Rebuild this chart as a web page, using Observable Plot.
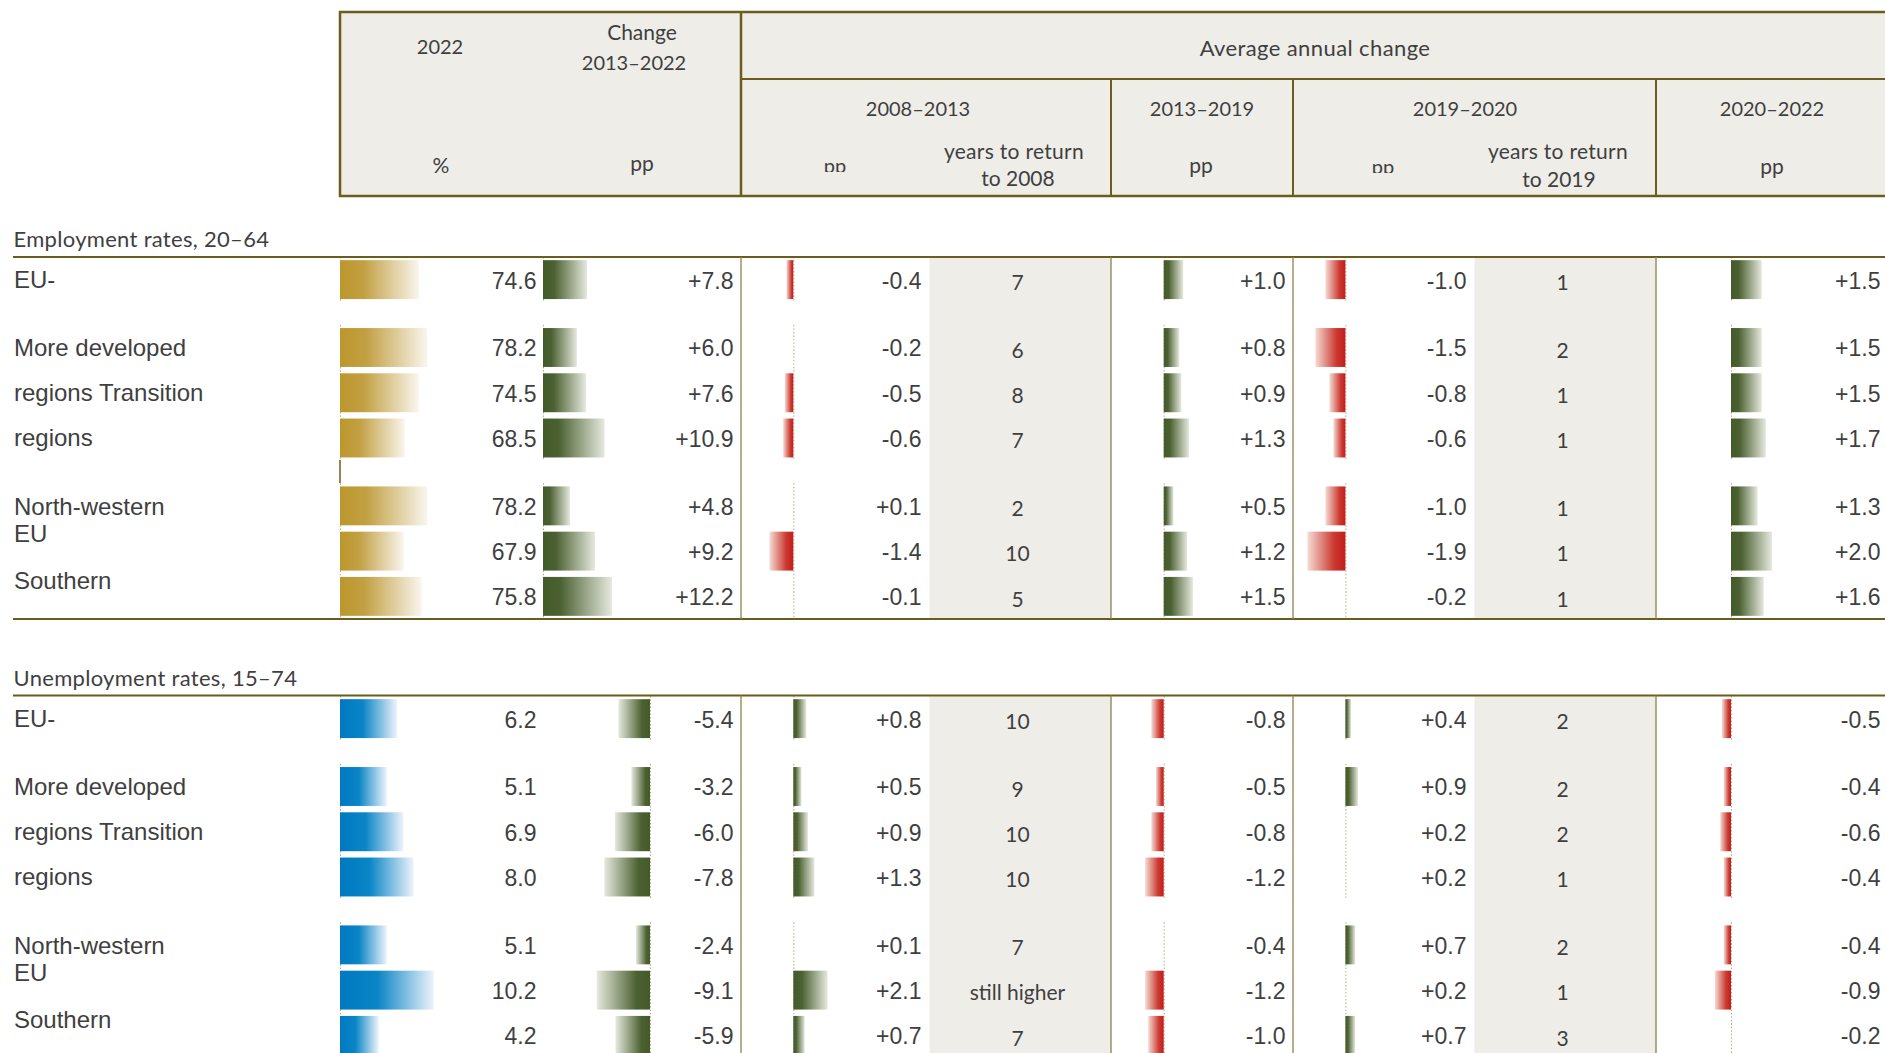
<!DOCTYPE html>
<html><head><meta charset="utf-8">
<script src="https://cdn.jsdelivr.net/npm/d3@7"></script>
<script src="https://cdn.jsdelivr.net/npm/@observablehq/plot@0.6"></script>
<style>
html,body{margin:0;padding:0;background:#fff;overflow:hidden}
#page{position:relative;width:1885px;height:1053px;overflow:hidden;background:#fff}
.cell{position:absolute}
.cell svg{display:block;max-width:none !important}
#static{position:absolute;left:0;top:0;pointer-events:none;z-index:5}
</style></head><body>
<svg width="0" height="0" style="position:absolute">
  <defs>
    <linearGradient id="gGold" x1="0" x2="1" y1="0" y2="0">
      <stop offset="0" stop-color="#bb972c"/><stop offset="0.3" stop-color="#c2a043"/><stop offset="1" stop-color="#faf6ee"/>
    </linearGradient>
    <linearGradient id="gBlue" x1="0" x2="1" y1="0" y2="0">
      <stop offset="0" stop-color="#0079c1"/><stop offset="0.4" stop-color="#0a85c6"/><stop offset="1" stop-color="#eef3fb"/>
    </linearGradient>
    <linearGradient id="gGreenPos" x1="0" x2="1" y1="0" y2="0">
      <stop offset="0" stop-color="#435a29"/><stop offset="0.25" stop-color="#4b6131"/><stop offset="1" stop-color="#e6e9de"/>
    </linearGradient>
    <linearGradient id="gGreenNeg" x1="1" x2="0" y1="0" y2="0">
      <stop offset="0" stop-color="#435a29"/><stop offset="0.25" stop-color="#4b6131"/><stop offset="1" stop-color="#e6e9de"/>
    </linearGradient>
    <linearGradient id="gRedNeg" x1="1" x2="0" y1="0" y2="0">
      <stop offset="0" stop-color="#c41b1b"/><stop offset="0.3" stop-color="#cb3a30"/><stop offset="1" stop-color="#f5dcd5"/>
    </linearGradient>
  </defs>
</svg>
<div id="page"></div>
<script>
// ---------------- data ----------------
const rowLabels = ["EU-", "More developed", "regions Transition", "regions", "North-western", "EU", "Southern"];
const rowGroups = [0, 1, 1, 1, 2, 2, 2];
const sectionTitles = ["Employment rates, 20\u201364", "Unemployment rates, 15\u201374"];

// Employment rates, 20-64
const empRate2022   = [74.6, 78.2, 74.5, 68.5, 78.2, 67.9, 75.8];
const empChange1322 = [7.8, 6.0, 7.6, 10.9, 4.8, 9.2, 12.2];
const empAvg0813    = [-0.4, -0.2, -0.5, -0.6, 0.1, -1.4, -0.1];
const empYears2008  = ["7", "6", "8", "7", "2", "10", "5"];
const empAvg1319    = [1.0, 0.8, 0.9, 1.3, 0.5, 1.2, 1.5];
const empAvg1920    = [-1.0, -1.5, -0.8, -0.6, -1.0, -1.9, -0.2];
const empYears2019  = ["1", "2", "1", "1", "1", "1", "1"];
const empAvg2022    = [1.5, 1.5, 1.5, 1.7, 1.3, 2.0, 1.6];

// Unemployment rates, 15-74
const unRate2022    = [6.2, 5.1, 6.9, 8.0, 5.1, 10.2, 4.2];
const unChange1322  = [-5.4, -3.2, -6.0, -7.8, -2.4, -9.1, -5.9];
const unAvg0813     = [0.8, 0.5, 0.9, 1.3, 0.1, 2.1, 0.7];
const unYears2008   = ["10", "9", "10", "10", "7", "still higher", "7"];
const unAvg1319     = [-0.8, -0.5, -0.8, -1.2, -0.4, -1.2, -1.0];
const unAvg1920     = [0.4, 0.9, 0.2, 0.2, 0.7, 0.2, 0.7];
const unYears2019   = ["2", "2", "2", "1", "2", "1", "3"];
const unAvg2022     = [-0.5, -0.4, -0.6, -0.4, -0.4, -0.9, -0.2];

// header texts
const headTop = ["2022", "Change", "2013\u20132022", "Average annual change"];
const periods = ["2008\u20132013", "2013\u20132019", "2019\u20132020", "2020\u20132022"];
const units = ["%", "pp"];
const yearsHead = ["years to return", "to 2008", "to 2019"];

// ---------------- layout ----------------
const page = document.getElementById("page");
const ROW = 45.25, SEC_H = 8 * ROW;
const OL = "#6b5d1b";
const TXT = "#3f3f3f";
const slotOf = i => i + 0.5 + 0.5 * rowGroups[i];
const labelSlots = [0.5, 2, 3, 4, 5.52, 6.12, 7.15];

const cols = [
  {key: "A", left: 340, width: 200, pad: 4},
  {key: "B", left: 540, width: 201, pad: 8},
  {key: "C", left: 741, width: 188, pad: 8},
  {key: "C2", left: 929, width: 182, years: true},
  {key: "D", left: 1111, width: 182, pad: 8},
  {key: "E", left: 1293, width: 181, pad: 8},
  {key: "E2", left: 1474, width: 182, years: true},
  {key: "F", left: 1656, width: 232, pad: 8}
];

// base: bar origin, zero: pixel offset of origin in the cell, k: px per unit, minBar: smallest magnitude that still gets a bar
const sections = [
  {title: sectionTitles[0], top: 257, bottom: 619, levelFill: "url(#gGold)",
   values: {A: empRate2022, B: empChange1322, C: empAvg0813, C2: empYears2008, D: empAvg1319, E: empAvg1920, E2: empYears2019, F: empAvg2022},
   scale: {A: {base: 40.25, zero: 0, k: 2.3, minBar: 0}, B: {base: 0, zero: 3, k: 5.65, minBar: 0},
           C: {base: 0, zero: 52.3, k: 17, minBar: 0.25}, D: {base: 0, zero: 52.7, k: 19.5, minBar: 0},
           E: {base: 0, zero: 52.4, k: 20, minBar: 0.25}, F: {base: 0, zero: 75, k: 20.5, minBar: 0}}},
  {title: sectionTitles[1], top: 695.5, bottom: null, levelFill: "url(#gBlue)",
   values: {A: unRate2022, B: unChange1322, C: unAvg0813, C2: unYears2008, D: unAvg1319, E: unAvg1920, E2: unYears2019, F: unAvg2022},
   scale: {A: {base: 0, zero: 0, k: 9.2, minBar: 0}, B: {base: 0, zero: 110, k: 5.85, minBar: 0},
           C: {base: 0, zero: 52.3, k: 16.3, minBar: 0.15}, D: {base: 0, zero: 52.7, k: 15.5, minBar: 0.45},
           E: {base: 0, zero: 52.4, k: 14, minBar: 0.25}, F: {base: 0, zero: 75, k: 18, minBar: 0.25}}}
];

const fmtSigned = v => (v > 0 ? "+" : "") + v.toFixed(1);
const fmtPlain = v => v.toFixed(1);

function place(node, left, top) {
  const d = document.createElement("div");
  d.className = "cell";
  d.style.left = left + "px";
  d.style.top = top + "px";
  d.appendChild(node);
  page.appendChild(d);
}

function basePlot(width, xopt, marks) {
  return Plot.plot({
    width, height: SEC_H,
    marginTop: 0, marginRight: 0, marginBottom: 0, marginLeft: 0,
    x: Object.assign({axis: null}, xopt),
    y: {type: "linear", domain: [0, 8], range: [0, SEC_H], axis: null},
    style: {background: "transparent", overflow: "visible"},
    marks
  });
}

for (const sec of sections) {
  // row labels
  const labelData = rowLabels.map((label, i) => ({label, slot: labelSlots[i]}));
  place(basePlot(339, {domain: [0, 1]}, [
    Plot.text(labelData, {y: "slot", text: "label", frameAnchor: "left", textAnchor: "start", dx: 13.5,
      fontSize: 24, fontFamily: "Liberation Sans, Arial, sans-serif", fill: TXT})
  ]), 0, sec.top);

  for (const col of cols) {
    const vals = sec.values[col.key];
    const data = vals.map((v, i) => ({v, slot: slotOf(i)}));
    if (col.years) {
      place(basePlot(col.width, {domain: [0, 1]}, [
        Plot.frame({fill: "#eeede8", stroke: "none"}),
        Plot.text(data, {y: "slot", text: "v", frameAnchor: "middle", dy: 3, dx: -3,
          fontSize: 21, fontFamily: "Lato, sans-serif", fill: TXT})
      ]), col.left, sec.top);
      continue;
    }
    const sc = sec.scale[col.key];
    const visible = data.filter(d => Math.abs(d.v - sc.base) > sc.minBar);
    const pos = visible.filter(d => d.v >= sc.base), neg = visible.filter(d => d.v < sc.base);
    let posFill, negFill;
    if (col.key === "A") { posFill = negFill = sec.levelFill; }
    else if (col.key === "B") { posFill = "url(#gGreenPos)"; negFill = "url(#gGreenNeg)"; }
    else { posFill = "url(#gGreenPos)"; negFill = "url(#gRedNeg)"; }
    const bar = (arr, fill) => Plot.rect(arr, {x1: sc.base, x2: "v", y1: d => d.slot - 0.43, y2: d => d.slot + 0.43, fill});
    place(basePlot(col.width, {type: "linear", domain: [sc.base, sc.base + 1], range: [sc.zero, sc.zero + sc.k]}, [
      Plot.ruleX(data, {x: sc.base, y1: d => d.slot - 0.5, y2: d => d.slot + 0.5, stroke: "#b3ab8a", strokeWidth: 1, strokeDasharray: "1.5,2"}),
      bar(pos, posFill),
      bar(neg, negFill),
      Plot.text(data, {y: "slot", text: d => col.key === "A" ? fmtPlain(d.v) : fmtSigned(d.v),
        frameAnchor: "right", textAnchor: "end", dx: -col.pad, dy: 1,
        fontSize: 23, fontFamily: "Liberation Sans, Arial, sans-serif", fill: TXT})
    ]), col.left, sec.top);
  }
}

// ---------------- static header, titles and rules ----------------
const ns = "http://www.w3.org/2000/svg";
const st = document.createElementNS(ns, "svg");
st.setAttribute("id", "static");
st.setAttribute("width", 1885);
st.setAttribute("height", 1053);
const T = (s, x, y, size, extra = "") =>
  `<text x="${x}" y="${y}" text-anchor="middle" font-family="Lato, sans-serif" font-size="${size}" fill="${TXT}" ${extra}>${s}</text>`;
const L = (x1, y1, x2, y2, w, c = OL, extra = "") =>
  `<line x1="${x1}" y1="${y1}" x2="${x2}" y2="${y2}" stroke="${c}" stroke-width="${w}" ${extra}/>`;
let h = "";
h += `<defs><clipPath id="clipC"><rect x="800" y="140" width="80" height="32"/></clipPath>
<clipPath id="clipE"><rect x="1345" y="140" width="80" height="33"/></clipPath></defs>`;
// header box
h += `<rect x="340" y="12" width="1600" height="184" fill="#eeede8" stroke="${OL}" stroke-width="2.5"/>`;
h += L(741, 12, 741, 196, 2.5);
h += L(741, 79, 1900, 79, 2);
h += L(1111, 79, 1111, 196, 2);
h += L(1293, 79, 1293, 196, 2);
h += L(1656, 79, 1656, 196, 2);
// header texts
h += T(headTop[0], 440, 54, 20);
h += T(headTop[1], 642, 40, 21);
h += T(headTop[2], 634, 70, 20);
h += T(headTop[3], 1315, 56, 22, 'letter-spacing="0.4"');
h += T(periods[0], 918, 116, 20);
h += T(periods[1], 1202, 116, 20);
h += T(periods[2], 1465, 116, 20);
h += T(periods[3], 1772, 116, 20);
h += T(units[0], 441, 173, 21);
h += T(units[1], 642, 171, 21);
h += T(units[1], 835, 173, 20, 'clip-path="url(#clipC)"');
h += T(units[1], 1201, 173, 21);
h += T(units[1], 1383, 174, 20, 'clip-path="url(#clipE)"');
h += T(units[1], 1772, 174, 21);
h += T(yearsHead[0], 1014, 159, 21, 'letter-spacing="0.3"');
h += T(yearsHead[1], 1018, 186, 21);
h += T(yearsHead[0], 1558, 159, 21, 'letter-spacing="0.3"');
h += T(yearsHead[2], 1559, 187, 21);
// section titles and rules
for (const sec of sections) {
  h += `<text x="13.5" y="${sec.top - 10}" font-family="Lato, sans-serif" font-size="22" letter-spacing="0.3" fill="${TXT}">${sec.title}</text>`;
  h += L(13, sec.top, 1900, sec.top, 2);
  const bot = sec.bottom == null ? 1060 : sec.bottom;
  if (sec.bottom != null) h += L(13, sec.bottom, 1900, sec.bottom, 2);
  for (const x of [741, 1111, 1293, 1656]) h += L(x, sec.top, x, bot, 1.3, "#8f8350");
}
// small stray cell border in the employment block
h += L(340, 460, 340, 483, 1.5);
st.innerHTML = h;
page.appendChild(st);
</script>
</body></html>
